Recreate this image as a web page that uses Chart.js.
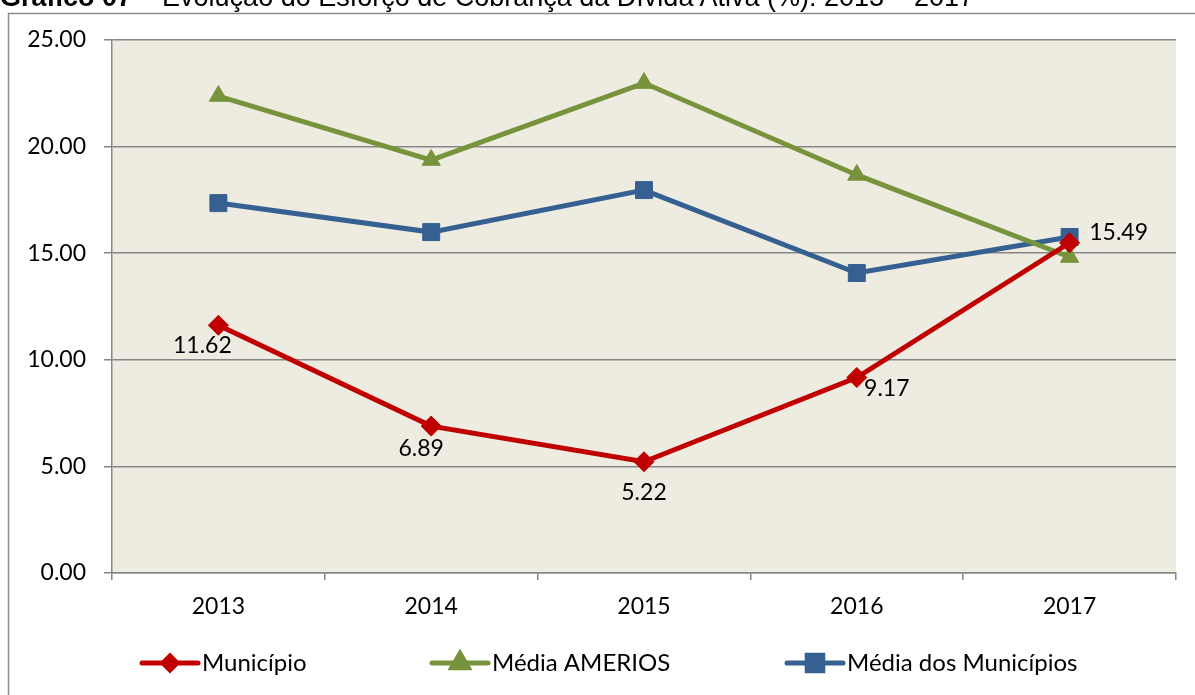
<!DOCTYPE html>
<html>
<head>
<meta charset="utf-8">
<script src="https://cdn.jsdelivr.net/npm/chart.js@4"></script>
<style>
  body { margin: 0; background: #fff; }
  #wrap { position: relative; width: 1195px; height: 695px; overflow: hidden; }
  #title {
    position: absolute; left: 0; top: -16px; white-space: nowrap;
    font-family: "Liberation Sans", Arial, sans-serif; font-size: 27px; line-height: 27px; color: #000;
  }
  #title b { font-weight: bold; }
  canvas { position: absolute; left: 0; top: 0; }
</style>
</head>
<body>
<div id="wrap">
  <canvas id="chart" width="1195" height="695"></canvas>
  <div id="title"><b>Gráfico 07</b> – Evolução do Esforço de Cobrança da Dívida Ativa (%): 2013 – 2017</div>
</div>
<script>
const years = ['2013', '2014', '2015', '2016', '2017'];
const municipio = [11.62, 6.89, 5.22, 9.17, 15.49];
const mediaAmerios = [22.37, 19.37, 22.98, 18.67, 14.82];
const mediaMunicipios = [17.35, 15.99, 17.96, 14.07, 15.76];
const yTicks = [0, 5, 10, 15, 20, 25];

const FONT = 'Lato, "Open Sans", sans-serif';
const GRID = '#868686';

// where each value label of "Município" sits relative to its point
const labelOffsets = [[-16, 20], [-10, 22], [0, 31], [30, 11], [49, -10]];
// left edge of each legend entry
const legendX = [142, 432, 787];

const framePlugin = {
    id: 'frame',
    beforeDraw(chart) {
        const ctx = chart.ctx;
        const a = chart.chartArea;
        ctx.save();
        ctx.fillStyle = '#EEECE1';
        ctx.fillRect(a.left, a.top, a.right - a.left, a.bottom - a.top);
        ctx.strokeStyle = '#8c8c8c';
        ctx.lineWidth = 1.5;
        ctx.beginPath();
        ctx.moveTo(8.5, 700);
        ctx.lineTo(8.5, 13.5);
        ctx.lineTo(1200, 13.5);
        ctx.stroke();
        ctx.restore();
    }
};

const valueLabels = {
    id: 'valueLabels',
    afterDatasetsDraw(chart) {
        const ctx = chart.ctx;
        const meta = chart.getDatasetMeta(0);
        ctx.save();
        ctx.font = '23px ' + FONT;
        ctx.fillStyle = '#000';
        ctx.textAlign = 'center';
        ctx.textBaseline = 'middle';
        meta.data.forEach((pt, i) => {
            const off = labelOffsets[i];
            ctx.fillText(municipio[i].toFixed(2), pt.x + off[0], pt.y + off[1]);
        });
        ctx.restore();
    }
};

// legend with line + marker, like the spreadsheet legend
const lineLegend = {
    id: 'lineLegend',
    afterDraw(chart) {
        const ctx = chart.ctx;
        const y = 663;
        ctx.save();
        ctx.font = '24px ' + FONT;
        ctx.textBaseline = 'middle';
        ctx.textAlign = 'left';
        chart.data.datasets.forEach((ds, i) => {
            const x = legendX[i];
            ctx.strokeStyle = ds.borderColor;
            ctx.lineWidth = 5;
            ctx.lineCap = 'round';
            ctx.beginPath();
            ctx.moveTo(x, y);
            ctx.lineTo(x + 56, y);
            ctx.stroke();
            Chart.helpers.drawPoint(ctx, {
                pointStyle: ds.pointStyle,
                radius: ds.legendRadius,
                rotation: 0,
                borderWidth: 1
            }, x + 28, y);
            ctx.fillStyle = ds.borderColor;
            ctx.fill();
            ctx.fillStyle = '#000';
            ctx.fillText(ds.label, x + 60, y);
        });
        ctx.restore();
    }
};

function series(label, data, color, style, radius, legendRadius) {
    return {
        label: label,
        data: data,
        borderColor: color,
        backgroundColor: color,
        borderWidth: 5,
        pointStyle: style,
        pointRadius: radius,
        pointHoverRadius: radius,
        pointBorderWidth: 1,
        pointBackgroundColor: color,
        pointBorderColor: color,
        legendRadius: legendRadius,
        tension: 0
    };
}

new Chart(document.getElementById('chart').getContext('2d'), {
    type: 'line',
    data: {
        labels: years,
        datasets: [
            series('Município', municipio, '#C00000', 'rectRot', 10, 7),
            series('Média AMERIOS', mediaAmerios, '#77933C', 'triangle', 10.5, 9.5),
            series('Média dos Municípios', mediaMunicipios, '#376092', 'rect', 12, 11)
        ]
    },
    options: {
        responsive: false,
        animation: false,
        devicePixelRatio: 1,
        layout: { padding: { left: 0, top: 40, right: 19, bottom: 0 } },
        plugins: {
            legend: { display: false },
            title: { display: false },
            tooltip: { enabled: false }
        },
        scales: {
            x: {
                offset: true,
                grid: {
                    offset: true,
                    drawOnChartArea: false,
                    drawTicks: true,
                    tickLength: 7,
                    color: GRID,
                    lineWidth: 1.5
                },
                border: { display: true, color: GRID, width: 1.5 },
                ticks: { color: '#000', font: { family: FONT, size: 23 }, padding: 13 },
                afterFit(scale) { scale.height = 122; }
            },
            y: {
                min: 0,
                max: 25,
                afterBuildTicks(scale) { scale.ticks = yTicks.map(v => ({ value: v })); },
                grid: {
                    color: GRID,
                    lineWidth: 1.5,
                    drawTicks: true,
                    tickLength: 8
                },
                border: { display: true, color: GRID, width: 1.5 },
                ticks: {
                    color: '#000',
                    font: { family: FONT, size: 23 },
                    padding: 18,
                    callback: v => v.toFixed(2)
                },
                afterFit(scale) { scale.width = 112; }
            }
        }
    },
    plugins: [framePlugin, valueLabels, lineLegend]
});
</script>
</body>
</html>
